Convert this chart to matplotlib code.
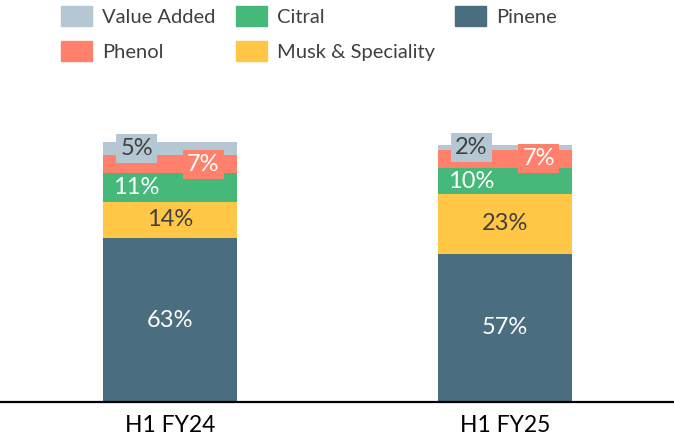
import numpy as np
import matplotlib.pyplot as plt
from matplotlib.patches import Patch

plt.rcParams['font.family'] = ['Lato', 'DejaVu Sans']

# data
periods = ['H1 FY24', 'H1 FY25']
segments = ['Pinene', 'Musk & Speciality', 'Citral', 'Phenol', 'Value Added']
values = {
    'Pinene': [63, 57],
    'Musk & Speciality': [14, 23],
    'Citral': [11, 10],
    'Phenol': [7, 7],
    'Value Added': [5, 2],
}
colors = {
    'Pinene': '#4A6E80',
    'Musk & Speciality': '#FFC745',
    'Citral': '#45B87A',
    'Phenol': '#FF806B',
    'Value Added': '#B4C7D3',
}
text_colors = {
    'Pinene': 'white',
    'Musk & Speciality': '#404040',
    'Citral': 'white',
    'Phenol': 'white',
    'Value Added': '#404040',
}
# some labels are pushed sideways; the thin ones also get a box
label_shift = {'Citral': -0.1, 'Phenol': 0.1, 'Value Added': -0.1}
boxed = ['Phenol', 'Value Added']

W, H = 674, 441
fig = plt.figure(figsize=(W / 100, H / 100), dpi=100)
base_px = 402
ax = fig.add_axes([0, (H - base_px) / H, 1, base_px / H])

x = np.arange(len(periods))
width = 0.4
bottom = np.zeros(len(periods))
for seg in segments:
    vals = np.array(values[seg], dtype=float)
    ax.bar(x, vals, width, bottom=bottom, color=colors[seg], linewidth=0)
    for xi, v, b in zip(x, vals, bottom):
        dx = label_shift.get(seg, 0)
        kw = {}
        if seg in boxed:
            kw['bbox'] = dict(boxstyle='square,pad=0.17', fc=colors[seg], ec='none')
        ax.text(xi + dx, b + v / 2, f'{int(v)}%', ha='center', va='center',
                fontsize=17, color=text_colors[seg], **kw)
    bottom += vals

ax.set_xlim(-170 / 335, (W - 170) / 335)
ax.set_ylim(0, base_px / 2.6)
for s in ['top', 'right', 'left']:
    ax.spines[s].set_visible(False)
ax.spines['bottom'].set_linewidth(1.6)
ax.set_yticks([])
ax.set_xticks(x)
ax.set_xticklabels(periods, fontsize=16.5, color='black')
ax.tick_params(axis='x', length=0, pad=9)

legend_order = ['Value Added', 'Phenol', 'Citral', 'Musk & Speciality', 'Pinene']
handles = [Patch(color=colors[s], label=s) for s in legend_order]
fig.legend(handles=handles, ncol=3, loc='upper left',
           bbox_to_anchor=(61 / W, 1 - 6 / H), frameon=False,
           fontsize=14.5, labelcolor='#404040', handlelength=1.55, handleheight=1.15,
           handletextpad=0.5, columnspacing=1.0, labelspacing=0.75,
           borderpad=0, borderaxespad=0)

fig.savefig('out.png', dpi=100)
